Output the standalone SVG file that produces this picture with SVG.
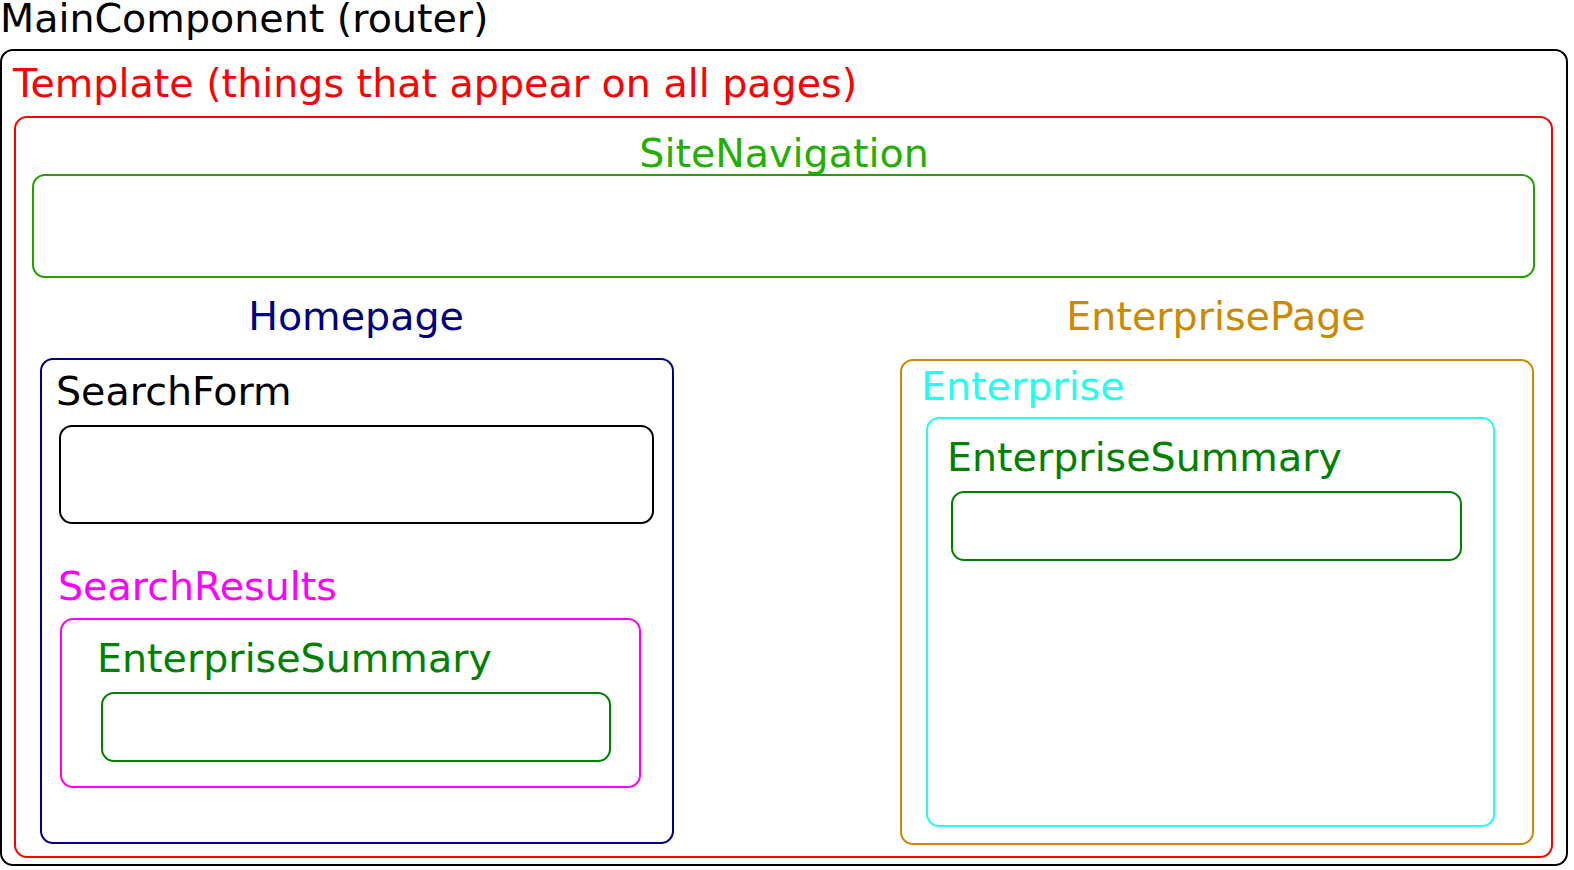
<svg xmlns="http://www.w3.org/2000/svg" width="1574" height="870" viewBox="0 0 1574 870">
<style>
rect{fill:none;stroke-width:2}
text{font-family:"DejaVu Sans",sans-serif;font-size:39.6px}
</style>
<rect width="1574" height="870" fill="#fff" style="fill:#fff;stroke:none"/>
<g id="main"><text x="0" y="32" fill="#000">MainComponent (router)</text><rect x="1" y="50" width="1566" height="815" rx="12" stroke="#000"/></g>
<g id="template"><text x="13" y="97" fill="#ff0000">Template (things that appear on all pages)</text><rect x="15" y="117" width="1537" height="740" rx="12" stroke="#ff0000"/></g>
<g id="sitenav"><text x="784" y="167" text-anchor="middle" fill="#22b000">SiteNavigation</text><rect x="33" y="175" width="1501" height="102" rx="12" stroke="#22a000"/></g>
<g id="homepage"><text x="356" y="330" text-anchor="middle" fill="#000080">Homepage</text><rect x="41" y="359" width="632" height="484" rx="12" stroke="#000080"/></g>
<g id="searchform"><text x="56" y="405" fill="#000">SearchForm</text><rect x="60" y="426" width="593" height="97" rx="12" stroke="#000"/></g>
<g id="searchresults"><text x="58" y="600" fill="#ff00ff">SearchResults</text><rect x="61" y="619" width="579" height="168" rx="12" stroke="#ff00ff"/></g>
<g id="summary1"><text x="97" y="672" fill="#008000">EnterpriseSummary</text><rect x="102" y="693" width="508" height="68" rx="12" stroke="#008000"/></g>
<g id="enterprisepage"><text x="1216" y="330" text-anchor="middle" fill="#cc8800">EnterprisePage</text><rect x="901" y="360" width="632" height="484" rx="12" stroke="#cc8800"/></g>
<g id="enterprise"><text x="921" y="400" fill="#22ffee">Enterprise</text><rect x="927" y="418" width="567" height="408" rx="12" stroke="#22ffee"/></g>
<g id="summary2"><text x="947" y="471" fill="#008000">EnterpriseSummary</text><rect x="952" y="492" width="509" height="68" rx="12" stroke="#008000"/></g>
<g id="connectors"/>
</svg>
